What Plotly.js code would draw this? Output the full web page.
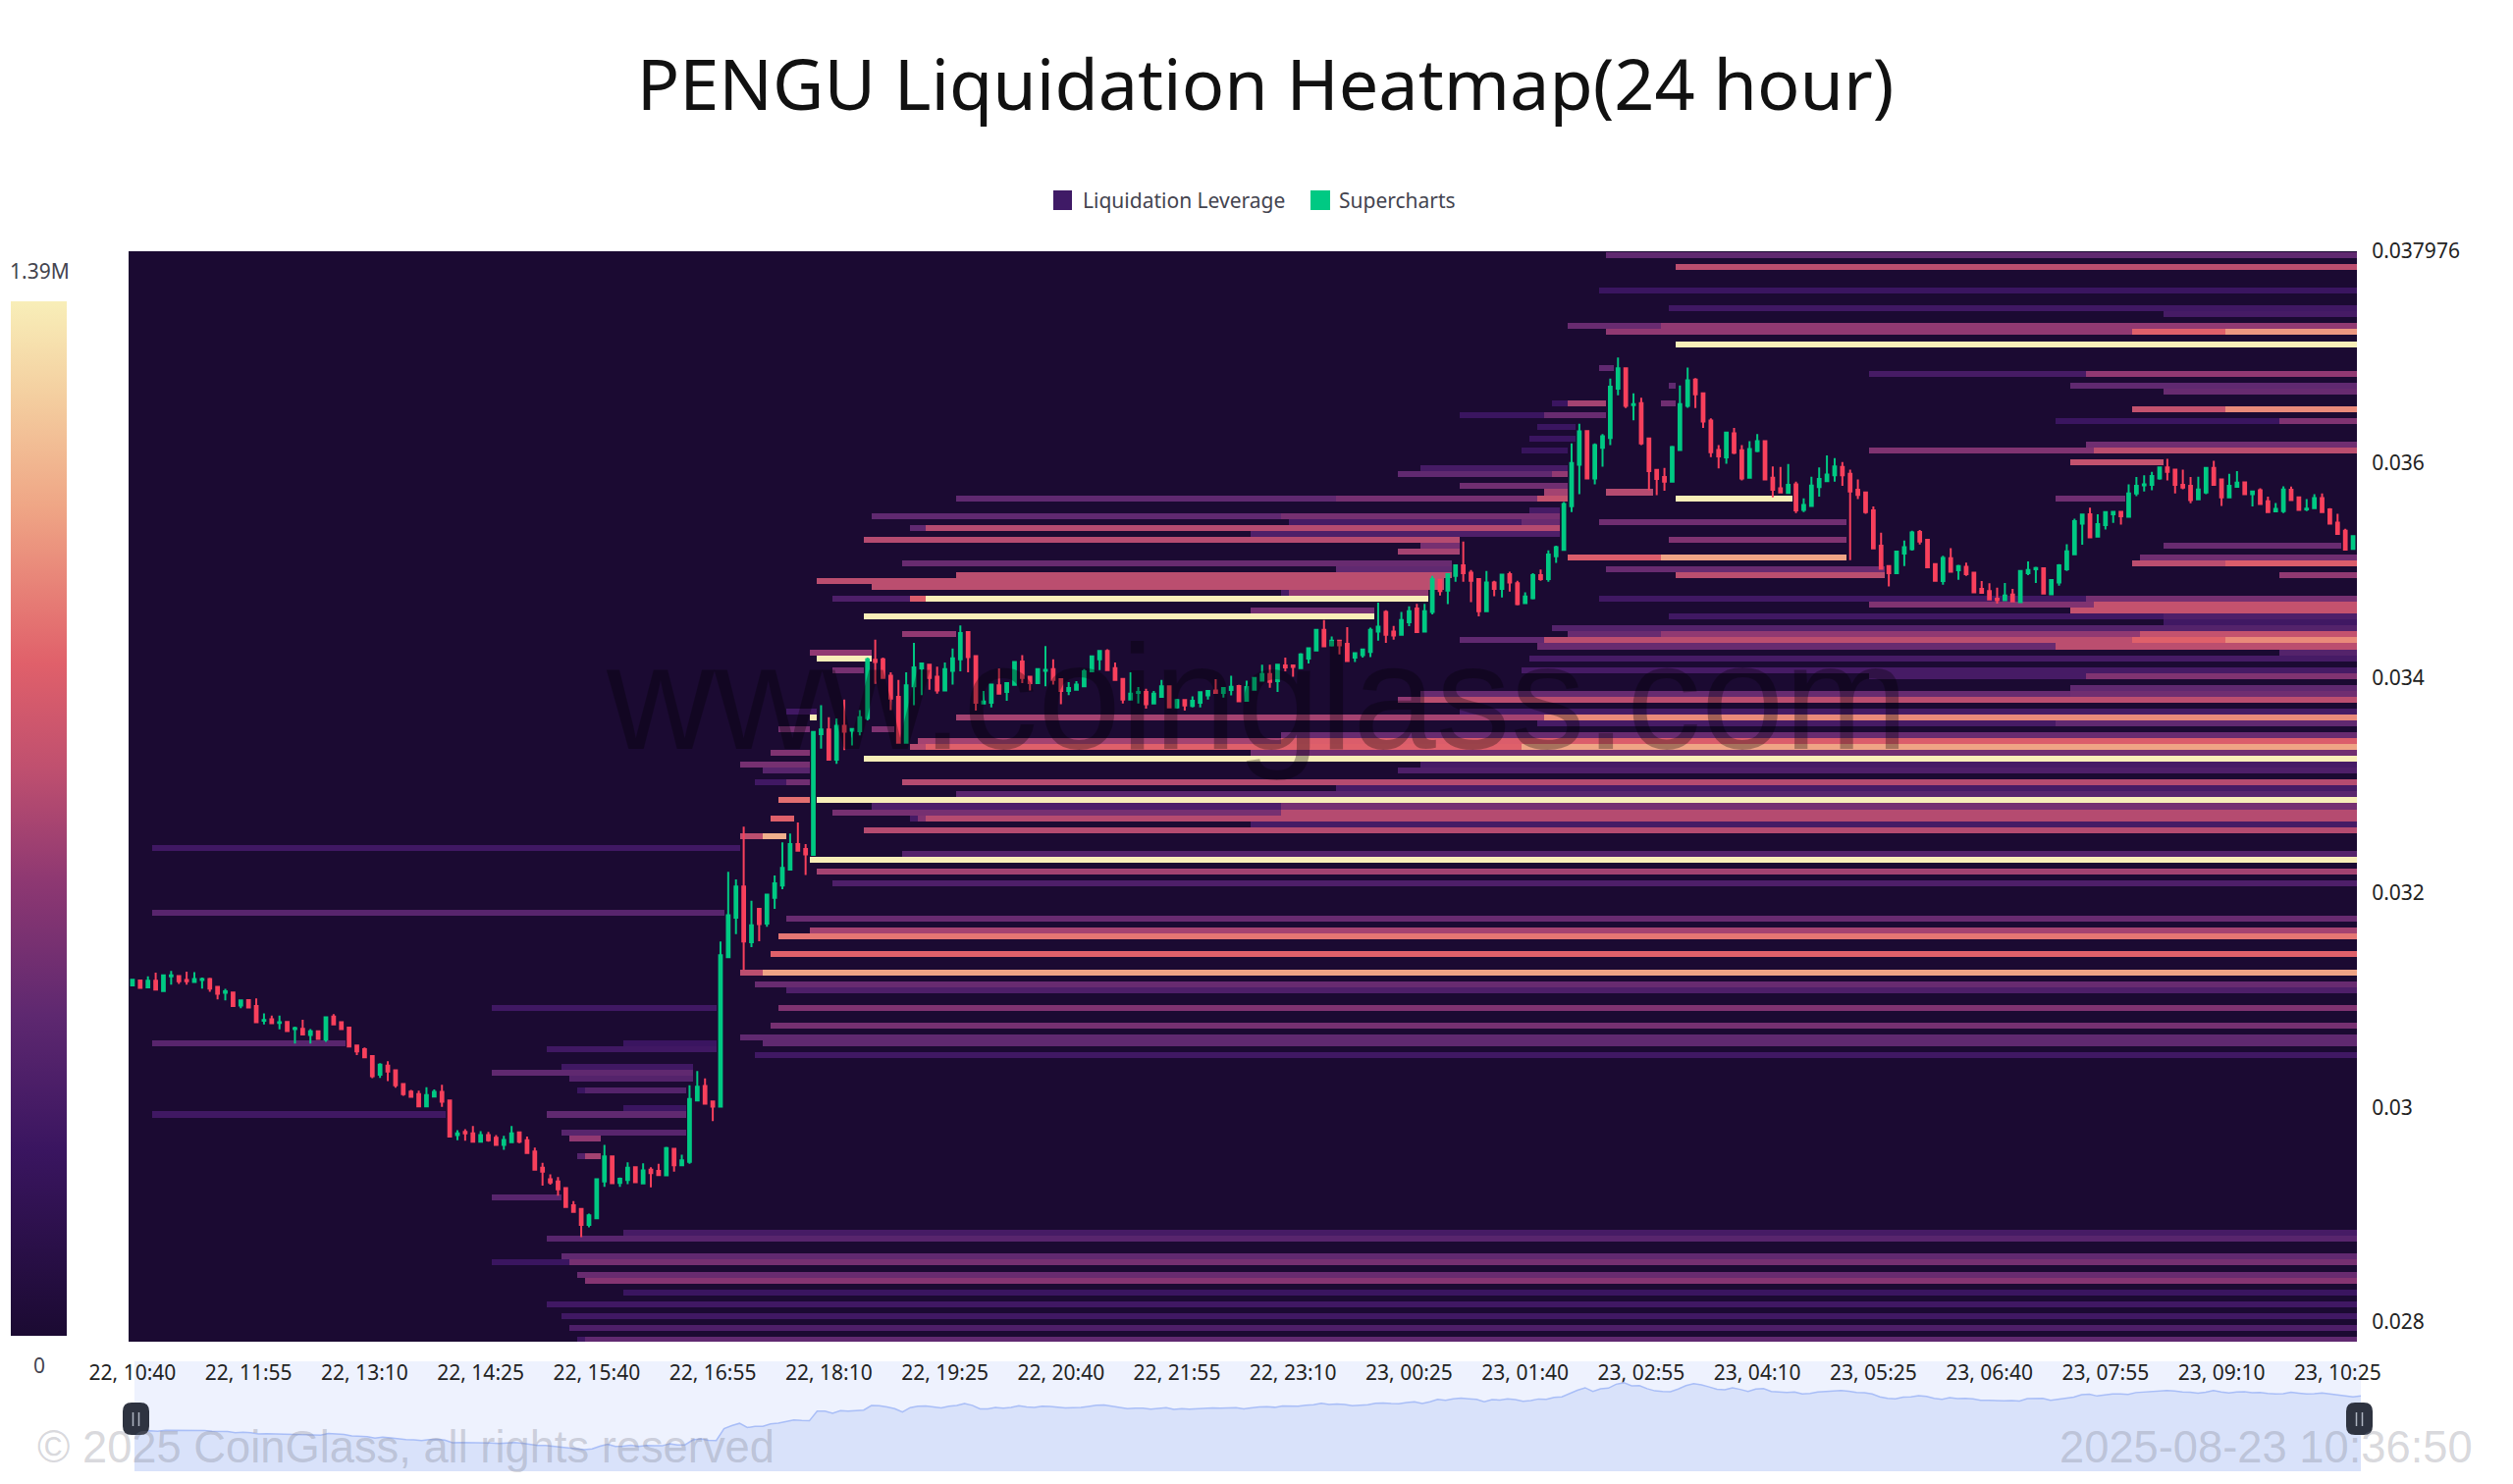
<!DOCTYPE html>
<html>
<head>
<meta charset="utf-8">
<script src="https://cdn.plot.ly/plotly-3.0.1.min.js"></script>
<style>html,body{margin:0;padding:0;background:#fff}#chart{width:2560px;height:1512px}</style>
</head>
<body>
<div id="chart"></div>
<script>
// ---- text ----
const chartTitle = "PENGU Liquidation Heatmap(24 hour)";
const legendNames = ["Liquidation Leverage", "Supercharts"];
const xTickLabels = ["22, 10:40","22, 11:55","22, 13:10","22, 14:25","22, 15:40","22, 16:55","22, 18:10","22, 19:25","22, 20:40","22, 21:55","22, 23:10","23, 00:25","23, 01:40","23, 02:55","23, 04:10","23, 05:25","23, 06:40","23, 07:55","23, 09:10","23, 10:25"];
const yTickValues = [0.028, 0.03, 0.032, 0.034, 0.036, 0.037976];
const yTickLabels = ["0.028", "0.03", "0.032", "0.034", "0.036", "0.037976"];

// ---- 5-minute candles, prices x 1e-6 ----
const opens = [31137,31183,31119,31180,31083,31220,31223,31186,31168,31186,
31195,31122,31067,31070,30948,31000,30945,30808,30820,30787,
30796,30729,30732,30674,30708,30632,30845,30793,30744,30577,
30543,30479,30305,30388,30345,30217,30147,30123,30010,30101,
30144,30065,29742,29772,29757,29681,29742,29717,29650,29675,
29766,29693,29589,29437,29330,29309,29248,29087,29053,28904,
28968,29309,29544,29297,29324,29443,29291,29419,29407,29367,
29614,29461,29492,30065,30199,30056,30006,31399,31768,32057,
31539,31850,31713,31953,32066,32215,32453,32407,32353,33477,
33520,33239,33556,33510,33504,33626,34169,34175,34022,33824,
33398,33922,34089,34123,34013,33885,34068,34175,34428,34205,
33763,33769,33931,33870,33937,34153,34013,33952,34068,34083,
33989,33879,33891,33922,34062,34174,34251,34092,33992,33800,
33861,33870,33763,33824,33922,33727,33794,33739,33769,33839,
33885,33861,33888,33925,33787,33891,33976,34037,33970,34117,
34117,34092,34181,34257,34449,34305,34348,34318,34190,34214,
34244,34433,34616,34433,34403,34519,34647,34433,34616,34915,
34814,34951,35049,34982,34921,34622,34890,34830,34967,34884,
34699,34744,34958,34921,35134,35195,35601,35988,36301,35860,
36146,36237,36695,36886,36542,36560,36231,35939,35872,35829,
36125,36536,36780,36652,36399,36125,36055,36280,36122,35866,
36116,36207,35866,35768,35725,35805,35567,35604,35780,35835,
35890,35966,35902,35753,35729,35561,35232,35043,34976,35159,
35201,35360,35287,35061,34903,35116,35004,35037,34982,34830,
34809,34738,34726,34778,34708,34976,35013,35022,34781,34891,
35013,35153,35439,35525,35317,35424,35525,35549,35503,35720,
35796,35799,35860,35963,35942,35799,35790,35665,35729,35957,
35851,35683,35781,35823,35713,35750,35646,35552,35555,35753,
35683,35570,35582,35677,35570,35448,35372,35202];
const closes = [31189,31113,31180,31098,31229,31229,31174,31174,31195,31195,
31107,31058,31082,30945,30997,30930,30793,30814,30784,30793,
30711,30738,30680,30708,30638,30839,30772,30729,30568,30522,
30467,30290,30397,30333,30205,30123,30098,30010,30114,30144,
30053,29727,29757,29757,29681,29742,29693,29650,29696,29757,
29681,29574,29419,29401,29300,29236,29071,29026,28904,28995,
29330,29544,29294,29334,29437,29303,29413,29388,29370,29620,
29461,29507,30077,30193,30034,30007,31417,31789,32057,31545,
31697,31707,31981,32088,32231,32453,32392,32356,33498,33520,
33239,33556,33501,33526,33635,34175,34150,34001,33809,33398,
33931,34099,34135,34001,33885,34083,34184,34418,34196,33769,
33782,33940,33855,33952,34150,34001,33952,34083,34077,33983,
33879,33907,33940,34062,34202,34251,34074,33982,33800,33855,
33870,33757,33855,33922,33727,33794,33745,33787,33867,33879,
33861,33906,33918,33784,33915,34001,34037,33964,34123,34098,
34104,34220,34278,34449,34296,34348,34305,34159,34232,34266,
34449,34479,34403,34397,34540,34622,34427,34622,34921,34811,
34967,35049,34976,34906,34622,34890,34830,34964,34890,34689,
34759,34958,34921,35150,35220,35622,36003,36298,35860,36170,
36253,36713,36886,36536,36551,36186,35927,35854,35829,36152,
36551,36774,36643,36390,36103,36064,36286,36100,35860,36134,
36207,35850,35753,35729,35799,35561,35613,35793,35854,35896,
35972,35890,35738,35707,35546,35208,35019,34976,35177,35220,
35357,35272,35031,34906,35119,34991,35043,34967,34799,34793,
34732,34726,34769,34714,34997,35007,35025,34787,34912,35049,
35180,35461,35522,35311,35433,35546,35549,35506,35720,35790,
35805,35881,35963,35921,35799,35774,35659,35756,35957,35799,
35683,35790,35820,35713,35738,35622,35546,35576,35756,35659,
35567,35579,35677,35546,35439,35342,35196,35323];
const highs = [31198,31183,31220,31256,31229,31271,31226,31265,31259,31210,
31207,31125,31104,31070,30997,31006,31015,30875,30854,30854,
30796,30753,30817,30729,30711,30845,30869,30802,30747,30583,
30558,30479,30412,30430,30345,30217,30162,30156,30187,30168,
30211,30071,29788,29797,29827,29778,29772,29742,29736,29827,
29772,29727,29626,29483,29376,29352,29254,29126,29053,29011,
29330,29650,29544,29346,29489,29443,29480,29443,29474,29632,
29620,29559,30205,30339,30269,30062,31545,32194,32124,32615,
31926,31850,31981,32161,32468,32551,32654,32453,33504,33748,
33635,33623,33800,33526,33702,34190,34358,34190,34053,33983,
34053,34327,34144,34129,34105,34144,34275,34489,34434,34205,
33879,33940,34089,33961,34159,34214,34022,34092,34297,34175,
33992,33961,33970,34083,34202,34257,34269,34144,33992,34053,
33915,33900,33879,33983,33922,33806,33800,33830,33870,33885,
33989,33915,34022,33937,33976,34007,34123,34123,34129,34190,
34117,34232,34281,34449,34540,34388,34348,34473,34232,34275,
34470,34702,34631,34485,34616,34668,34692,34692,34951,34921,
34967,35058,35271,35006,34921,34997,34906,34967,34991,34906,
34799,34976,35012,35189,35232,35640,36186,36368,36308,36186,
36274,36789,36987,36886,36652,36612,36231,35939,35957,36164,
36725,36893,36795,36652,36420,36170,36292,36329,36170,36207,
36274,36210,35972,35966,35994,35829,35674,35875,35963,36073,
36049,36012,35942,35850,35729,35598,35354,35043,35183,35281,
35372,35378,35287,35067,35140,35211,35055,35074,34988,34903,
34882,34842,34885,34830,34997,35086,35037,35025,34921,35061,
35247,35485,35525,35586,35525,35555,35549,35549,35805,35872,
35890,35921,35969,36043,35942,35942,35872,35875,35963,36024,
35860,35902,35927,35829,35738,35768,35689,35631,35787,35784,
35689,35668,35713,35720,35582,35531,35390,35323];
const lows = [31128,31104,31119,31098,31076,31143,31150,31143,31168,31107,
31076,31006,30997,30936,30924,30924,30787,30772,30778,30726,
30702,30595,30674,30595,30632,30610,30766,30723,30565,30488,
30464,30272,30275,30245,30184,30107,30089,30004,30004,30095,
30004,29720,29693,29690,29675,29675,29681,29641,29605,29672,
29666,29568,29416,29270,29279,29178,29062,29017,28791,28883,
28965,29260,29291,29260,29285,29300,29285,29254,29367,29364,
29401,29455,29474,30059,30031,29873,30004,31393,31615,31280,
31493,31548,31682,31850,32033,32209,32386,32164,32347,33343,
33236,33200,33328,33373,33465,33605,33946,33992,33702,33392,
33392,33748,33840,33891,33855,33879,33940,34062,34053,33696,
33757,33727,33849,33788,33931,33952,33885,33946,33922,33940,
33757,33840,33885,33922,34056,34074,34068,33976,33763,33794,
33763,33714,33757,33818,33720,33714,33696,33727,33727,33800,
33855,33818,33839,33781,33784,33885,33976,33909,33870,34062,
34013,34086,34135,34251,34287,34293,34220,34153,34150,34190,
34196,34348,34327,34357,34397,34482,34418,34427,34592,34769,
34689,34897,34897,34708,34574,34616,34763,34750,34805,34677,
34689,34732,34906,34897,35073,35189,35546,35713,35857,35805,
35969,36170,36634,36515,36402,36170,35750,35704,35744,35823,
36122,36518,36515,36329,36058,35954,35997,36085,35841,35863,
36103,35847,35683,35719,35719,35537,35546,35598,35689,35829,
35829,35790,35098,35668,35531,35202,35013,34854,34970,35043,
35186,35244,35025,34900,34869,34982,34915,34952,34796,34790,
34726,34693,34720,34711,34702,34958,34885,34781,34775,34860,
34997,35147,35241,35302,35311,35384,35445,35430,35497,35695,
35738,35750,35848,35841,35720,35759,35628,35659,35713,35793,
35604,35677,35774,35704,35598,35616,35540,35546,35537,35653,
35561,35555,35576,35540,35433,35336,35189,35196];

// ---- liquidation bands: price level x 1e-6, first candle, end candle, leverage in millions ----
const bandPrice = [37947,37828,37609,37444,37389,37280,37280,37225,37225,37225,37115,36896,36841,36841,36731,36731,36676,
36567,36567,36567,36512,36512,36457,36457,36402,36402,36347,36238,36183,36128,36128,36128,36018,35963,35909,35909,35799,35744,35744,
35689,35689,35689,35689,35689,35570,35516,35516,35461,35461,35461,35406,35406,35351,35296,35296,35241,35241,35187,
35132,35132,35132,35077,35077,35077,35022,35022,34967,34967,34967,34912,34858,34803,34803,
34748,34748,34748,34748,34748,34684,34684,34629,34629,34574,34574,34574,34519,34464,
34410,34410,34410,34410,34355,34355,34355,34355,34300,34300,34245,34245,34190,34190,34081,34081,34026,34026,
33916,33861,33861,33806,33806,33697,33697,33642,33642,33642,33587,33587,33532,33532,33477,33423,33423,
33368,33368,33368,33313,33313,33258,33194,33194,33139,33139,33030,33030,33030,32975,32920,32865,32865,
32810,32810,32755,32755,32700,32700,32700,32700,32646,32591,32536,32536,32417,32371,32317,32207,32097,
31823,31768,31649,31595,31430,31265,31265,31156,31101,30936,30936,30772,30662,30607,30607,30607,30553,30498,
30388,30333,30278,30169,30169,29995,29940,29940,29776,29721,29557,29557,29164,
28834,28779,28615,28560,28560,28450,28395,28286,28176,28066,27956,27838,27838];
const bandFrom = [191,200,190,199,263,186,198,191,259,271,200,190,225,253,199,251,263,
184,186,198,259,271,172,183,249,278,182,181,253,180,225,254,251,167,164,184,172,183,191,
107,156,182,200,249,181,96,149,150,180,190,101,103,145,95,199,167,263,164,
186,198,260,100,259,271,156,191,107,200,278,89,96,149,150,
91,101,103,190,253,225,254,145,251,95,199,263,263,184,
100,186,198,260,172,183,259,271,182,249,88,278,89,181,91,180,225,253,
251,167,251,164,167,85,172,88,107,183,182,249,84,96,149,102,149,
101,103,180,83,145,95,79,167,82,164,81,85,100,156,107,84,89,
96,149,91,149,83,101,102,103,145,95,79,82,3,100,88,89,91,
3,85,88,84,83,79,82,81,85,47,84,83,79,3,64,82,54,81,
56,47,57,58,59,64,3,54,56,57,58,59,47,
64,54,56,47,57,58,59,64,54,56,57,58,59];
const bandTo = [288,288,288,288,288,198,288,259,271,288,288,192,253,288,200,288,288,
186,191,200,271,288,183,191,278,288,187,187,288,186,254,288,263,186,184,186,186,186,197,
156,182,186,215,258,185,149,185,180,185,222,103,185,185,172,222,172,286,172,
198,222,288,171,271,288,171,227,171,227,288,170,170,150,168,
101,103,168,253,288,254,288,161,288,161,263,288,288,288,
107,198,260,288,183,259,271,288,249,288,96,288,96,288,95,288,253,288,
288,251,288,167,288,89,288,89,183,288,249,288,88,99,288,149,288,
103,180,288,88,288,288,88,288,88,288,85,88,288,288,288,88,288,
149,288,149,288,86,102,103,288,288,288,82,85,79,288,288,288,288,
77,288,288,288,288,82,288,288,288,76,288,288,288,28,76,288,76,288,
73,73,73,59,72,72,41,72,72,61,59,61,56,
288,288,288,57,288,288,288,288,288,288,288,59,288];
const bandValue = [0.44,0.75,0.25,0.28,0.31,0.47,0.62,0.62,0.90,1.07,1.39,0.44,0.31,0.62,0.44,0.44,0.47,
0.25,0.68,0.50,0.78,1.03,0.25,0.47,0.25,0.56,0.25,0.25,0.50,0.23,0.56,0.75,0.78,0.31,0.44,0.62,0.50,0.68,0.73,
0.44,0.52,0.78,1.39,0.50,0.31,0.44,0.52,0.31,0.47,0.50,0.44,0.73,0.35,0.73,0.56,0.52,0.47,0.68,
0.88,1.11,0.50,0.47,0.75,0.88,0.44,0.47,0.75,0.75,0.62,0.75,0.75,0.31,0.62,
0.35,0.88,1.39,0.28,0.52,0.56,0.78,0.50,0.78,1.39,0.28,0.35,0.28,0.38,
0.62,0.47,0.62,0.78,0.44,0.75,0.90,1.03,0.47,0.75,0.62,0.38,1.39,0.31,0.52,0.31,0.31,0.56,
0.44,0.47,0.50,0.62,0.75,0.28,0.31,1.39,0.68,1.03,0.31,0.44,0.52,0.56,0.47,0.68,0.88,
0.73,0.90,1.11,0.56,0.50,1.39,0.52,0.31,0.40,0.35,0.28,0.50,0.73,0.31,0.41,0.95,1.39,
0.35,0.52,0.52,0.73,0.90,0.31,0.56,0.73,0.31,0.73,0.75,1.15,0.28,0.38,1.39,0.68,0.35,
0.40,0.47,0.68,0.97,0.90,0.75,1.11,0.47,0.35,0.28,0.56,0.52,0.44,0.40,0.25,0.44,0.28,0.28,
0.28,0.44,0.38,0.25,0.38,0.25,0.28,0.44,0.40,0.62,0.38,0.68,0.40,
0.31,0.40,0.44,0.25,0.52,0.47,0.58,0.25,0.28,0.28,0.35,0.28,0.44];

// ---- heat grid ----
const candleCount = opens.length;
const rowBase = 27838, rowStep = 55.2, rowCount = 184;
const heat = [];
for (let r = 0; r < rowCount; r++) heat.push(new Array(candleCount).fill(0));
bandPrice.forEach((p, b) => {
  const r = Math.round((p - rowBase) / rowStep);
  if (r < 0 || r >= rowCount) return;
  for (let c = bandFrom[b]; c < Math.min(bandTo[b], candleCount); c++) heat[r][c] = bandValue[b];
});
const index = opens.map((_, i) => i);
const toPrice = v => v / 1e6;

// ---- page geometry helpers (page pixels to paper fractions) ----
const W = 2560, H = 1512;
const px = x => x / W, py = y => 1 - y / H;
const rect = (x0, y0, x1, y1, color, layer) => ({type:"rect", xref:"paper", yref:"paper", x0:px(x0), x1:px(x1), y0:py(y1), y1:py(y0), fillcolor:color, line:{width:0}, layer:layer||"above"});
const pill = (x0, y0, x1, y1, r, color) => ({type:"path", xref:"paper", yref:"paper", fillcolor:color, line:{width:0}, layer:"above",
  path:`M ${px(x0+r)} ${py(y0)} L ${px(x1-r)} ${py(y0)} Q ${px(x1)} ${py(y0)} ${px(x1)} ${py(y0+r)} L ${px(x1)} ${py(y1-r)} Q ${px(x1)} ${py(y1)} ${px(x1-r)} ${py(y1)} L ${px(x0+r)} ${py(y1)} Q ${px(x0)} ${py(y1)} ${px(x0)} ${py(y1-r)} L ${px(x0)} ${py(y0+r)} Q ${px(x0)} ${py(y0)} ${px(x0+r)} ${py(y0)} Z`});
const grip = (cx) => [cx-3, cx+3].map(x => ({type:"line", xref:"paper", yref:"paper", x0:px(x), x1:px(x), y0:py(1439), y1:py(1453), line:{color:"#aeb4c0", width:1.5}, layer:"above"}));
const note = (text, x, y, size, color, anchor, family) => ({text, x:px(x), y:py(y), xref:"paper", yref:"paper", showarrow:false, xanchor:anchor||"left", yanchor:"middle", font:{size, color, family:family||"Noto Sans"}});

const colorscale = [[0,"#1B0A32"],[0.18,"#3A1560"],[0.31,"#5E2870"],[0.44,"#8E3872"],[0.55,"#C0506F"],[0.65,"#E0606A"],[0.8,"#EFA585"],[0.91,"#F4CFA0"],[1,"#F8EEB8"]];

const traces = [
  {type:"heatmap", z:heat, x0:0, dx:1, y0:toPrice(rowBase), dy:toPrice(rowStep), zmin:0, zmax:1.39, zsmooth:false, colorscale, hoverinfo:"skip",
   xaxis:"x", yaxis:"y", name:legendNames[0],
   colorbar:{x:px(11), xanchor:"left", xpad:0, y:py(307), yanchor:"top", ypad:0, thickness:57, thicknessmode:"pixels", len:1054, lenmode:"pixels", outlinewidth:0, ticks:"", showticklabels:false, borderwidth:0}},
  {type:"candlestick", x:index, open:opens.map(toPrice), high:highs.map(toPrice), low:lows.map(toPrice), close:closes.map(toPrice), xaxis:"x", yaxis:"y", name:legendNames[1], hoverinfo:"skip", whiskerwidth:0,
   increasing:{line:{color:"#00C983", width:2}, fillcolor:"#00C983"}, decreasing:{line:{color:"#F8405C", width:2}, fillcolor:"#F8405C"}},
  {type:"scatter", mode:"lines", x:index, y:closes.map(toPrice), xaxis:"x2", yaxis:"y2", fill:"tozeroy", fillcolor:"#D9E2FA", line:{color:"#A9BEF7", width:1.5}, hoverinfo:"skip"}
];

const layout = {
  width:W, height:H, autosize:false, margin:{l:0, r:0, t:0, b:0, pad:0}, paper_bgcolor:"#fff", plot_bgcolor:"#1B0A32", showlegend:false, boxgap:0.5,
  title:{text:chartTitle, x:px(1289), xanchor:"center", y:py(87), yanchor:"middle", font:{size:72, color:"#111", family:"Noto Sans"}},
  xaxis:{domain:[px(131), px(2401)], range:[-0.5, candleCount-0.5], type:"linear", tickmode:"array", tickvals:xTickLabels.map((_, i) => i*15), ticktext:xTickLabels, ticks:"outside", ticklen:13, tickcolor:"rgba(0,0,0,0)", tickfont:{size:21, color:"#222", family:"Noto Sans"}, showgrid:false, zeroline:false, showline:false, rangeslider:{visible:false}, anchor:"y", fixedrange:true},
  yaxis:{domain:[py(1367), py(256)], range:[0.027817, 0.037976], side:"right", tickmode:"array", tickvals:yTickValues, ticktext:yTickLabels, ticks:"outside", ticklen:10, tickcolor:"rgba(0,0,0,0)", tickfont:{size:21, color:"#222", family:"Noto Sans"}, showgrid:false, zeroline:false, showline:false, anchor:"x", fixedrange:true},
  xaxis2:{domain:[px(137), px(2405)], range:[0, candleCount-1], visible:false, anchor:"y2", fixedrange:true},
  yaxis2:{domain:[py(1499), py(1387)], range:[0.02634, 0.03945], visible:false, anchor:"x2", fixedrange:true},
  shapes:[
    rect(137, 1387, 2405, 1499, "#EEF2FE", "below"),
    rect(1073, 194, 1092, 214, "#3F1A66"),
    rect(1335, 194, 1355, 214, "#00C983"),
    pill(125, 1429, 152, 1462, 9, "#2E3340"),
    pill(2390, 1429, 2417, 1462, 9, "#2E3340"),
    ...grip(138.5), ...grip(2403.5)
  ],
  annotations:[
    note(legendNames[0], 1101, 204, 21, "#44444f"),
    note(legendNames[1], 1362, 204, 21, "#44444f"),
    note("1.39M", 40, 276, 21, "#44444f", "center"),
    note("0", 40, 1391, 21, "#44444f", "center"),
    note("www.coinglass.com", 1280, 710, 152, "rgba(0,0,0,0.3)", "center", "Liberation Sans"),
    note("© 2025 CoinGlass, all rights reserved", 36, 1474, 45.3, "rgba(120,120,135,0.3)", "left", "Liberation Sans"),
    note("2025-08-23 10:36:50", 2521, 1474, 45.3, "rgba(120,120,135,0.3)", "right", "Liberation Sans")
  ]
};
Plotly.newPlot("chart", traces, layout, {displayModeBar:false, staticPlot:true});
</script>
</body>
</html>
